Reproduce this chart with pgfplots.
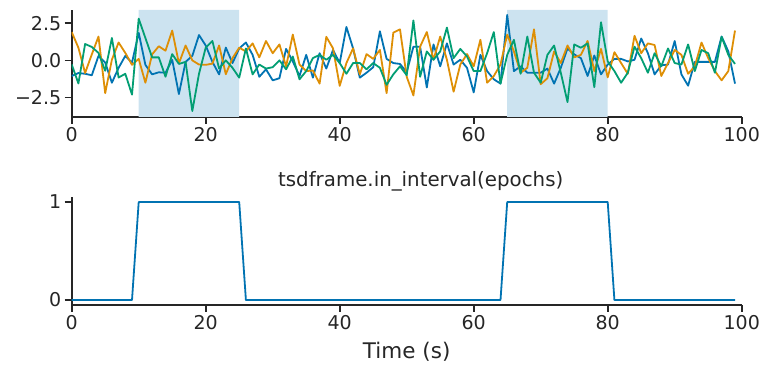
\documentclass[border=0pt]{standalone}
\usepackage{fontspec}
\setmainfont{DejaVu Sans}
\usepackage{pgfplots}
\usepackage{pgfplotstable}
\pgfplotsset{compat=1.18}
\definecolor{cbBlue}{HTML}{0173B2}
\definecolor{cbOrange}{HTML}{DE8F05}
\definecolor{cbGreen}{HTML}{029E73}
\definecolor{shadec}{RGB}{204,227,240}
\definecolor{spine}{HTML}{262626}

\pgfplotstableread{
t b o g
0 -1.05 1.9 -0.27
1 -0.85 0.85 -1.55
2 -0.9 -0.85 1.1
3 -1.0 0.4 0.9
4 0.3 1.6 0.5
5 -0.15 -2.2 -0.7
6 -1.5 0.05 1.5
7 -0.5 1.2 -1.15
8 0.3 0.5 -0.9
9 -0.15 -0.3 -2.3
10 1.85 0.1 2.8
11 -0.3 -1.5 1.5
12 -0.94 0.4 0.2
13 -0.8 0.95 0.2
14 -0.83 0.65 -1.1
15 0.04 2.0 0.42
16 -2.26 -0.2 -0.24
17 -0.1 1.0 -0.1
18 0.3 0.0 -3.4
19 1.7 -0.28 -0.9
20 1.0 -0.3 0.85
21 -0.1 -0.22 1.3
22 -0.94 1.0 -0.55
23 0.86 -0.93 0.0
24 -0.18 0.15 -0.5
25 0.8 0.85 -1.16
26 1.2 0.6 0.8
27 0.37 1.14 -0.94
28 -1.1 0.2 -0.28
29 -0.6 1.3 -0.55
30 -1.34 0.48 -0.46
31 -1.2 1.07 0.0
32 0.77 -0.4 -0.6
33 -0.07 1.73 0.26
34 -1.05 -0.28 -1.27
35 0.37 -0.72 -0.72
36 -1.16 -0.68 0.15
37 0.48 -1.56 0.37
38 -0.55 1.58 0.04
39 0.7 0.81 0.37
40 -0.18 -1.71 -0.18
41 2.24 -0.18 -0.9
42 0.8 0.81 -0.18
43 -1.16 -0.94 -0.18
44 -0.83 0.42 -0.6
45 -0.46 0.1 -0.18
46 1.95 0.7 -0.5
47 0.1 -2.2 -1.64
48 -0.18 1.86 -0.94
49 -0.24 2.08 -0.4
50 -0.8 -1.1 -1.0
51 0.92 -2.35 2.68
52 0.92 0.92 -1.1
53 -1.82 1.9 0.6
54 1.07 0.04 0.04
55 -0.4 1.6 0.6
56 1.14 0.04 2.2
57 -0.28 -2.1 0.15
58 0.04 -0.28 0.77
59 -0.5 0.42 0.26
60 -2.15 -0.4 -0.72
61 0.37 1.38 -0.72
62 -0.72 -1.5 0.48
63 -1.27 -1.05 1.9
64 -1.56 -0.28 -1.56
65 3.05 1.73 0.37
66 -0.72 0.6 1.38
67 -0.4 -0.83 -0.9
68 -0.83 -0.5 1.6
69 -0.83 2.08 -0.83
70 -0.83 -1.6 -1.5
71 -0.55 -1.2 0.37
72 -1.56 0.6 1.0
73 -0.5 -0.18 -0.83
74 0.8 1.0 -2.8
75 0.4 0.2 1.07
76 0.15 0.37 0.85
77 -1.05 1.3 1.14
78 0.33 -0.72 -1.8
79 -0.94 0.77 2.56
80 -0.28 -1.14 -0.07
81 0.1 0.55 -0.72
82 0.1 -0.18 -1.5
83 -0.07 -0.9 -0.83
84 0.04 1.65 0.92
85 1.47 0.48 0.15
86 0.48 1.14 -0.83
87 -0.94 1.03 0.48
88 -0.33 -1.05 -0.4
89 -0.28 -0.18 0.8
90 1.3 0.7 -0.18
91 -0.94 0.37 -0.28
92 -1.7 -0.9 1.07
93 -0.1 -0.4 -0.72
94 -0.1 1.2 0.7
95 -0.1 0.15 0.48
96 -0.1 -0.72 -0.83
97 1.6 -1.34 1.58
98 0.6 -0.72 0.37
99 -1.56 2.0 -0.24
}\datatable

\pgfplotstableread{
t v
0 0
9 0
10 1
25 1
26 0
64 0
65 1
80 1
81 0
99 0
}\intable

\begin{document}
\begin{tikzpicture}[x=1bp,y=1bp]
\useasboundingbox (0,0) rectangle (773,373);
\pgfplotsset{
  myaxis/.style={
    scale only axis, width=670bp,
    xmin=0, xmax=100,
    axis x line*=bottom, axis y line*=left,
    axis line style={spine, line width=1.6bp},
    every tick/.style={spine, line width=1.6bp},
    tick align=outside, major tick length=7bp,
    xtick={0,20,40,60,80,100}, xticklabels={0,20,40,60,80,100},
    ticklabel style={font=\fontsize{19bp}{22bp}\selectfont, text=spine},
  },
}
\begin{axis}[myaxis, at={(71.7bp,256bp)}, anchor=south west, height=107bp,
  ymin=-3.8, ymax=3.38, ytick={-2.5,0,2.5}, yticklabels={−2.5,0.0,2.5}]
\addplot[fill=shadec, draw=none] coordinates {(10,-3.8) (10,3.38) (25,3.38) (25,-3.8) (10,-3.8)};
\addplot[fill=shadec, draw=none] coordinates {(65,-3.8) (65,3.38) (80,3.38) (80,-3.8) (65,-3.8)};
\addplot[cbBlue, line width=1.8bp, line join=round] table[x=t, y=b] {\datatable};
\addplot[cbOrange, line width=1.8bp, line join=round] table[x=t, y=o] {\datatable};
\addplot[cbGreen, line width=1.8bp, line join=round] table[x=t, y=g] {\datatable};
\end{axis}
\begin{axis}[myaxis, at={(71.7bp,68.1bp)}, anchor=south west, height=107.8bp,
  ymin=-0.05, ymax=1.05, ytick={0,1}, yticklabels={0,1},
  title={tsdframe.in\_interval(epochs)},
  title style={at={(axis description cs:0.5,1)}, anchor=base, xshift=14bp, yshift=5bp, inner sep=0pt,
    font=\fontsize{19.8bp}{22bp}\selectfont, text=spine},
  xlabel={Time (s)},
  xlabel style={at={(axis description cs:0.5,0)}, anchor=base, yshift=-54bp, inner sep=0pt,
    font=\fontsize{21.5bp}{24bp}\selectfont, text=spine}]
\addplot[cbBlue, line width=1.8bp, line join=round] table[x=t, y=v] {\intable};
\end{axis}
\end{tikzpicture}
\end{document}
